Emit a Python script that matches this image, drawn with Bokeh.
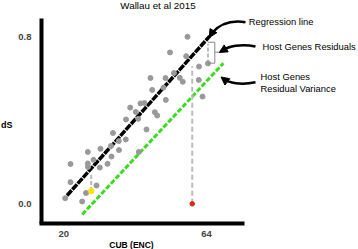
from bokeh.plotting import figure
from bokeh.models import (Range1d, Label, Arrow, NormalHead, FixedTicker, LinearAxis,
                          PrintfTickFormatter)
from bokeh.embed import file_html
from bokeh.resources import INLINE

# ---- data ----
cub = [20.43, 22.07, 22.07, 25.67, 26.85, 27.40, 27.40, 27.46, 29.16, 30.08,
       31.10, 31.32, 33.48, 34.71, 34.55, 35.17, 37.02, 36.96, 39.12, 39.18,
       42.94, 43.13, 45.50, 40.47, 42.20, 43.65, 44.88, 48.06, 48.80, 46.73,
       47.26, 50.74, 51.36, 51.45, 52.75, 53.98, 55.77, 56.69, 57.74, 58.14,
       61.69, 61.63, 62.77]
ds = [0.027, 0.104, 0.191, 0.011, 0.052, 0.249, 0.194, 0.177, 0.211, 0.088,
      0.174, 0.264, 0.192, 0.227, 0.278, 0.340, 0.258, 0.301, 0.309, 0.405,
      0.408, 0.249, 0.357, 0.462, 0.441, 0.482, 0.484, 0.440, 0.424, 0.604,
      0.547, 0.558, 0.604, 0.499, 0.727, 0.628, 0.605, 0.586, 0.709, 0.802,
      0.659, 0.595, 0.515]

host_cub = [64.46]
host_ds = [0.674]
host_res_top = [0.768]

yellow_cub = [28.45]
yellow_ds = [0.061]
yellow_res_top = [0.145]

red_cub = [59.6]
red_ds = [0.0]
red_res_top = [0.66]

reg_cub = [21.0, 65.0]
reg_ds = [0.040, 0.805]

var_cub = [25.7, 69.2]
var_ds = [-0.051, 0.675]

x_ticks = [20, 64]
y_ticks = [0.0, 0.8]

# ---- layout helpers (pixel -> data, for annotation placement only) ----
def dx(px):
    return 20 + (px - 63.3) / 3.243

def dy(py):
    return (203.3 - py) / 208.25

FONT = "Liberation Sans"
W, H = 358, 249

p = figure(width=W, height=H, output_backend="svg", toolbar_location=None,
           x_range=Range1d(dx(0), dx(W)), y_range=Range1d(dy(H), dy(0)),
           x_axis_location=None, y_axis_location=None,
           min_border=0, min_border_left=0, min_border_right=0,
           min_border_top=0, min_border_bottom=0)
p.outline_line_color = None
p.grid.visible = False
p.background_fill_color = "white"
p.border_fill_color = "white"

axis_style = dict(axis_line_width=4, axis_line_color="black",
                  major_tick_line_color=None, minor_tick_line_color=None,
                  major_label_text_font=FONT, major_label_text_font_style="bold",
                  major_label_text_font_size="9.5px")

yaxis = LinearAxis(ticker=FixedTicker(ticks=y_ticks),
                   formatter=PrintfTickFormatter(format="%.1f"),
                   fixed_location=dx(41), bounds=(dy(222.5), dy(18)),
                   major_label_standoff=4, **axis_style)
p.add_layout(yaxis, "left")

xaxis = LinearAxis(ticker=FixedTicker(ticks=x_ticks),
                   fixed_location=dy(222.5), bounds=(dx(39), dx(244)),
                   major_label_standoff=2, **axis_style)
p.add_layout(xaxis, "below")

# residual variance line and regression line
p.line(var_cub, var_ds, line_color="#38dd1e", line_width=3, line_dash="5 2")
p.line(reg_cub, reg_ds, line_color="black", line_width=3.5, line_dash="7 1")

# residual dashed segments
p.segment(red_cub, red_ds, red_cub, red_res_top, line_color="#bbbbbb",
          line_width=2, line_dash="5 3")
p.segment(yellow_cub, yellow_ds, yellow_cub, yellow_res_top, line_color="#bbbbbb",
          line_width=2, line_dash="4 2")
p.segment(host_cub, host_ds, host_cub, host_res_top, line_color="#bbbbbb",
          line_width=2, line_dash="4 2")

# points
p.scatter(cub, ds, size=5, color="#999999")
p.scatter(host_cub, host_ds, size=5, color="#999999")
p.scatter(yellow_cub, yellow_ds, size=5.5, color="#f7e600")
p.scatter(red_cub, red_ds, size=4.5, color="#e0231c")

# bracket around host gene residual
bx0, bx1, bx2 = dx(207.5), dx(214.3), dx(218.3)
by0, by1, bym = dy(41.7), dy(62.7), dy(51.7)
p.segment([bx0, bx1, bx0, bx1], [by0, by0, by1, bym],
          [bx1, bx1, bx1, bx2], [by0, by1, by1, bym],
          line_color="#888888", line_width=1)

# curved arrows
arrows = [
    # start, c1, c2, end, tip  (pixel positions)
    ((245, 21.7), (228, 19), (218, 25), (211.5, 32.5), (208.8, 37)),
    ((255, 46), (240, 43), (228, 46), (222.5, 49.8), (218.8, 52)),
    ((255, 81.7), (240, 85), (228, 82), (223.5, 78.8), (220.5, 76.5)),
]
for s, c1, c2, e, t in arrows:
    p.bezier(x0=[dx(s[0])], y0=[dy(s[1])], x1=[dx(e[0])], y1=[dy(e[1])],
             cx0=[dx(c1[0])], cy0=[dy(c1[1])], cx1=[dx(c2[0])], cy1=[dy(c2[1])],
             line_color="black", line_width=2.5)
    p.add_layout(Arrow(end=NormalHead(size=8, line_color="black", fill_color="black"),
                       x_start=dx(e[0]), y_start=dy(e[1]), x_end=dx(t[0]), y_end=dy(t[1]),
                       line_color="black", line_width=2.5))

# texts: (text, px, py, align, size, style)
texts = [
    ("Wallau et al 2015", 157.5, 4.8, "center", "9.8px", "normal"),
    ("dS", 0.5, 124, "left", "9px", "bold"),
    ("CUB (ENC)", 131, 244, "center", "8.5px", "bold"),
    ("Regression line", 248.3, 20.7, "left", "9.4px", "normal"),
    ("Host Genes Residuals", 262, 45.5, "left", "9.4px", "normal"),
    ("Host Genes", 260, 76, "left", "9.4px", "normal"),
    ("Residual Variance", 260, 87.5, "left", "9.4px", "normal"),
]
for t, px, py, al, fs, st in texts:
    p.add_layout(Label(x=dx(px), y=dy(py), text=t, text_font=FONT,
                       text_font_size=fs, text_font_style=st, text_align=al,
                       text_baseline="middle", text_color="black"))

open("out.html", "w").write(file_html(p, INLINE))
